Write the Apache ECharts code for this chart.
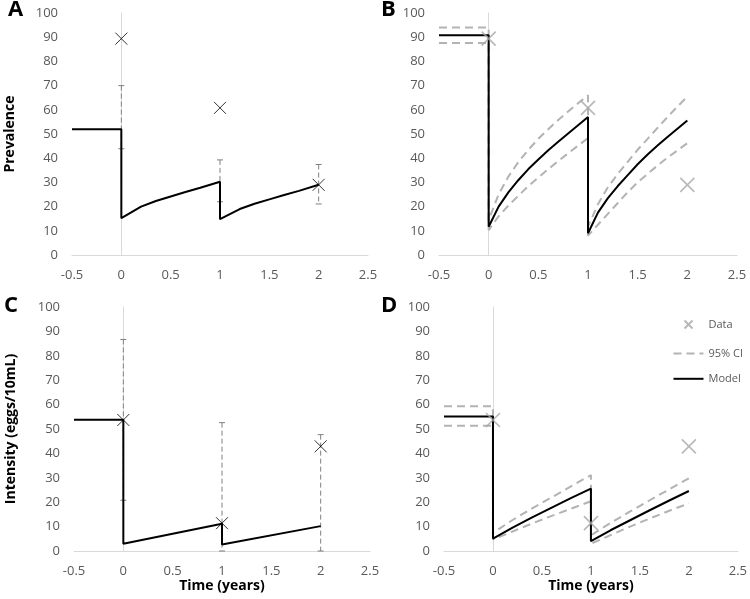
<!DOCTYPE html>
<html><head><meta charset="utf-8">
<script src="https://cdn.jsdelivr.net/npm/echarts@6/dist/echarts.min.js"></script>
<style>html,body{margin:0;padding:0;background:#fff}#c{width:750px;height:599px}</style>
</head><body><div id="c"></div>
<script>
const FONT = '"Open Sans", sans-serif';
const panelLetters = ['A', 'B', 'C', 'D'];
const yTitles = ['Prevalence', '', 'Intensity (eggs/10mL)', ''];
const xTitles = ['', '', 'Time (years)', 'Time (years)'];
const legendNames = ['Data', '95% CI', 'Model'];

// observed data
const obsTimes = [0, 1, 2];
const prevObs = [89.4, 60.8, 29.0];
const intObs = [53.7, 11.4, 42.9];
// error bars (panels A, C)
const prevErrLow = [43.9, 22.0, 21.1];
const prevErrHigh = [70.0, 39.3, 37.4];
const intErrLow = [20.8, 0, 0];
const intErrHigh = [86.7, 52.6, 47.7];

// model curves [time, value]
const modelA = [[-0.5,52],[0,52],[0,15.2],[0.2,20],[0.35,22.3],[0.5,24.2],[0.65,26],[0.8,27.8],[1,30.3],
  [1,14.8],[1.2,19],[1.35,21.2],[1.5,23],[1.65,24.8],[1.8,26.5],[2,29]];
const modelB = [[-0.5,90.8],[0,90.8],[0,11.7],[0.1,20],[0.2,26],[0.3,31],[0.4,35.5],[0.5,39.5],[0.6,43.3],[0.7,46.8],[0.8,50.2],[0.9,53.6],[1,57],
  [1,9],[1.1,17.5],[1.2,23.5],[1.3,28.5],[1.4,33],[1.5,37.5],[1.6,41.5],[1.7,45.2],[1.8,48.8],[1.9,52.2],[2,55.6]];
const ciUpperB = [[-0.5,94],[0,94],[0,14.5],[0.1,25],[0.2,32.5],[0.3,38.5],[0.4,43.5],[0.5,48],[0.6,52],[0.7,55.8],[0.8,59.3],[0.9,62.7],[1,66],
  [1,11.7],[1.1,21],[1.2,28],[1.3,33.5],[1.4,38.5],[1.5,43.5],[1.6,48],[1.7,52.5],[1.8,57],[1.9,61.3],[2,65.5]];
const ciLowerB = [[-0.5,87.6],[0,87.6],[0,10.3],[0.1,16],[0.2,20.5],[0.3,24.5],[0.4,28.5],[0.5,32],[0.6,35.5],[0.7,38.8],[0.8,42],[0.9,45.2],[1,48.3],
  [1,8],[1.1,12.5],[1.2,17],[1.3,21.5],[1.4,26],[1.5,30],[1.6,33.5],[1.7,37],[1.8,40.2],[1.9,43.2],[2,46.2]];
const modelC = [[-0.5,53.8],[0,53.8],[0,3],[1,11.2],[1,2.7],[2,10.2]];
const modelD = [[-0.5,55.1],[0,55.1],[0,5.1],[0.2,9.6],[0.4,13.8],[0.6,17.8],[0.8,21.8],[1,25.6],
  [1,4],[1.2,8.5],[1.4,12.6],[1.6,16.7],[1.8,20.7],[2,24.6]];
const ciUpperD = [[-0.5,59.3],[0,59.3],[0,7.4],[0.2,12.7],[0.4,17.5],[0.6,22],[0.8,26.6],[1,31.1],
  [1,6.4],[1.2,11.5],[1.4,16.2],[1.6,20.8],[1.8,25.3],[2,29.8]];
const ciLowerD = [[-0.5,51.3],[0,51.3],[0,4.7],[0.2,8],[0.4,11.3],[0.6,14.4],[0.8,17.4],[1,20.4],
  [1,3],[1.2,6.5],[1.4,10],[1.6,13.3],[1.8,16.5],[2,19.5]];

const GRIDS = [
  {left: 72, top: 13, width: 296, height: 242},
  {left: 439, top: 13, width: 298, height: 242},
  {left: 74, top: 307, width: 296, height: 244},
  {left: 444, top: 307, width: 298, height: 244}
];
const LETTER_POS = [[8, -1], [381, -1], [4, 295], [381, 295]];

const AXIS_COLOR = '#d9d9d9';
const LABEL_COLOR = '#595959';
const CI_COLOR = '#b3b3b3';
const ERR_COLOR = '#808080';
const CROSS = 'path://M0,0L10,10M10,0L0,10';

function pairs(xs, ys) { return xs.map((x, i) => [x, ys[i]]); }
function errTriples(xs, lo, hi) { return xs.map((x, i) => [x, lo[i], hi[i]]); }

function modelSeries(i, data) {
  return {type: 'line', name: 'Model', xAxisIndex: i, yAxisIndex: i, data: data, symbol: 'none',
    lineStyle: {color: '#000', width: 2}, itemStyle: {color: '#000'}, z: 5, animation: false};
}
function ciSeries(i, data) {
  return {type: 'line', name: '95% CI', xAxisIndex: i, yAxisIndex: i, data: data, symbol: 'none',
    lineStyle: {color: CI_COLOR, width: 2, type: [8, 5]}, itemStyle: {color: CI_COLOR}, z: 3, animation: false};
}
function dataSeries(i, data, color, size, width) {
  return {type: 'scatter', name: 'Data', xAxisIndex: i, yAxisIndex: i, data: data, symbol: CROSS,
    symbolSize: size, itemStyle: {color: 'none', borderColor: color, borderWidth: width}, z: 6, animation: false};
}
function errSeries(i, data) {
  return {type: 'custom', name: 'err', xAxisIndex: i, yAxisIndex: i, data: data, encode: {x: 0, y: [1, 2]},
    z: 4, animation: false,
    renderItem: function (params, api) {
      const x = api.value(0);
      const pLo = api.coord([x, api.value(1)]);
      const pHi = api.coord([x, api.value(2)]);
      return {type: 'group', children: [
        {type: 'line', shape: {x1: pHi[0], y1: pHi[1], x2: pLo[0], y2: pLo[1]},
          style: {stroke: ERR_COLOR, lineWidth: 1, lineDash: [5, 3]}},
        {type: 'line', shape: {x1: pHi[0] - 3, y1: pHi[1], x2: pHi[0] + 3, y2: pHi[1]},
          style: {stroke: ERR_COLOR, lineWidth: 1}},
        {type: 'line', shape: {x1: pLo[0] - 3, y1: pLo[1], x2: pLo[0] + 3, y2: pLo[1]},
          style: {stroke: ERR_COLOR, lineWidth: 1}}
      ]};
    }};
}

const option = {
  backgroundColor: '#fff',
  animation: false,
  textStyle: {fontFamily: FONT},
  title: panelLetters.map((l, i) => ({text: l, left: LETTER_POS[i][0], top: LETTER_POS[i][1], padding: 0,
    textStyle: {fontSize: 22, fontWeight: 'bold', color: '#000', fontFamily: FONT}})),
  grid: GRIDS,
  legend: {
    orient: 'vertical', left: 666, top: 310, itemWidth: 30, itemHeight: 14, itemGap: 14,
    selectedMode: false, textStyle: {color: LABEL_COLOR, fontSize: 11, fontFamily: FONT},
    data: [
      {name: legendNames[0], icon: 'path://M0,0M30,14M11,3L19,11M19,3L11,11',
        itemStyle: {color: 'none', borderColor: '#a6a6a6', borderWidth: 2}},
      {name: legendNames[1], itemStyle: {opacity: 0}, lineStyle: {width: 2}},
      {name: legendNames[2], itemStyle: {opacity: 0}, lineStyle: {width: 2}}
    ]
  },
  xAxis: GRIDS.map((g, i) => ({
    gridIndex: i, type: 'value', min: -0.5, max: 2.5, interval: 0.5,
    axisLine: {show: true, onZero: false, lineStyle: {color: AXIS_COLOR, width: 1}},
    axisTick: {show: false}, splitLine: {show: false},
    axisLabel: {color: LABEL_COLOR, fontSize: 13, margin: 14, fontFamily: FONT, showMaxLabel: true, showMinLabel: true},
    name: xTitles[i], nameLocation: 'middle', nameGap: 28,
    nameTextStyle: {color: '#000', fontSize: 14, fontWeight: 'bold', fontFamily: FONT}
  })),
  yAxis: GRIDS.map((g, i) => ({
    gridIndex: i, type: 'value', min: 0, max: 100, interval: 10,
    axisLine: {show: true, lineStyle: {color: AXIS_COLOR, width: 1}},
    axisTick: {show: false}, splitLine: {show: false},
    axisLabel: {color: LABEL_COLOR, fontSize: 13, margin: 14, fontFamily: FONT},
    name: yTitles[i], nameLocation: 'middle', nameRotate: 90, nameGap: i === 0 ? 55 : 56,
    nameTextStyle: {color: '#000', fontSize: 14, fontWeight: 'bold', fontFamily: FONT}
  })),
  series: [
    // A
    errSeries(0, errTriples(obsTimes, prevErrLow, prevErrHigh)),
    modelSeries(0, modelA),
    dataSeries(0, pairs(obsTimes, prevObs), '#000', 12, 1),
    // B
    ciSeries(1, ciUpperB),
    ciSeries(1, ciLowerB),
    modelSeries(1, modelB),
    dataSeries(1, pairs(obsTimes, prevObs), '#a6a6a6', 14, 1.6),
    // C
    errSeries(2, errTriples(obsTimes, intErrLow, intErrHigh)),
    modelSeries(2, modelC),
    dataSeries(2, pairs(obsTimes, intObs), '#000', 12, 1),
    // D
    ciSeries(3, ciUpperD),
    ciSeries(3, ciLowerD),
    modelSeries(3, modelD),
    dataSeries(3, pairs(obsTimes, intObs), '#a6a6a6', 14, 1.6)
  ]
};

const chart = echarts.init(document.getElementById('c'), null, {renderer: 'canvas'});
chart.setOption(option);
</script>
</body></html>
